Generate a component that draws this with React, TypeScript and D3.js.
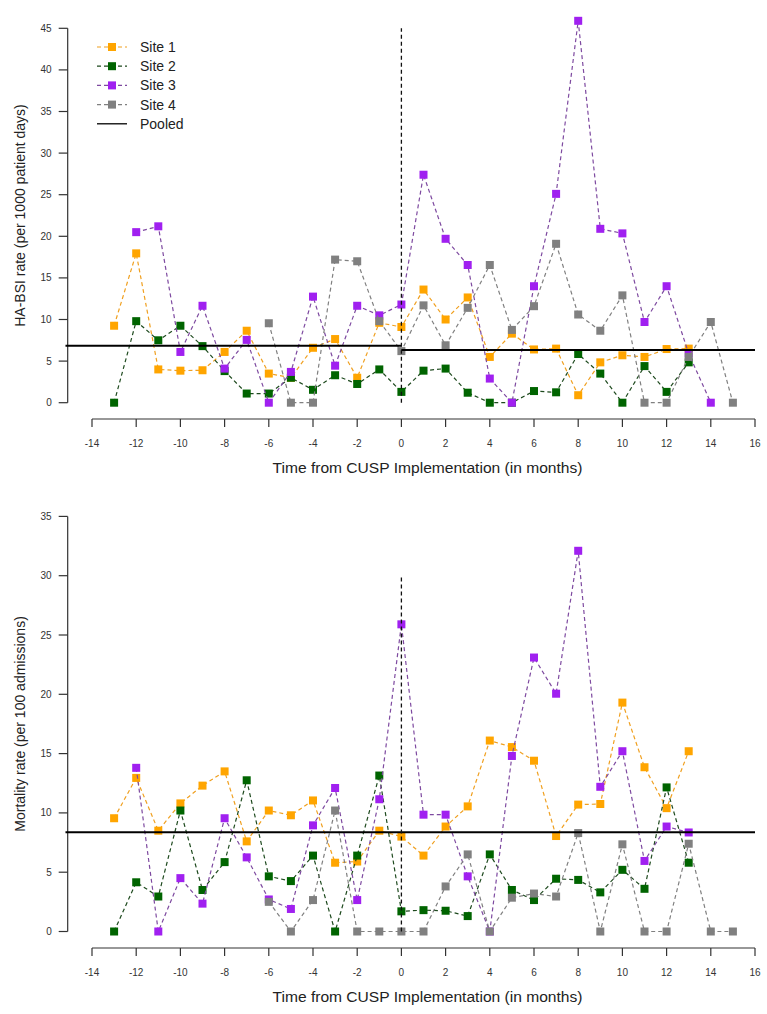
import React from "react";
import * as d3 from "d3";

const months: number[] = d3.range(-13, 16);
const xTicks: number[] = d3.range(-14, 17, 2);

// Top chart: HA-BSI rate (per 1000 patient days), months -13..15
const site1Top: (number | null)[] = [9.25, 17.95, 4.0, 3.85, 3.9, 6.1, 8.65, 3.5, 3.0, 6.6, 7.65, 3.0, 9.6, 9.1, 13.6, 10.0, 12.65, 5.5, 8.3, 6.4, 6.5, 0.9, 4.85, 5.7, 5.5, 6.45, 6.5, null, null];
const site2Top: (number | null)[] = [0, 9.8, 7.5, 9.25, 6.8, 3.8, 1.1, 1.1, 3.0, 1.55, 3.3, 2.25, 4.0, 1.3, 3.85, 4.1, 1.2, 0, 0, 1.4, 1.25, 5.85, 3.5, 0, 4.4, 1.3, 4.85, null, null];
const site3Top: (number | null)[] = [null, 20.5, 21.2, 6.1, 11.65, 4.1, 7.55, 0, 3.7, 12.75, 4.45, 11.65, 10.5, 11.8, 27.4, 19.7, 16.55, 2.9, 0, 14.0, 25.1, 45.9, 20.9, 20.35, 9.7, 14.0, 5.9, 0, null];
const site4Top: (number | null)[] = [null, null, null, null, null, null, null, 9.55, 0, 0, 17.2, 17.0, 9.8, 6.2, 11.7, 6.9, 11.4, 16.55, 8.75, 11.6, 19.1, 10.6, 8.65, 12.9, 0, 0, 5.5, 9.7, 0];
const pooledTopPre = 6.85;
const pooledTopPost = 6.33;
const yTicksTop: number[] = d3.range(0, 46, 5);

// Bottom chart: Mortality rate (per 100 admissions)
const site1Bot: (number | null)[] = [9.55, 12.95, 8.5, 10.8, 12.3, 13.5, 7.6, 10.2, 9.8, 11.05, 5.8, 5.9, 8.5, 8.0, 6.4, 8.85, 10.55, 16.1, 15.55, 14.4, 8.05, 10.7, 10.75, 19.3, 13.85, 10.4, 15.2, null, null];
const site2Bot: (number | null)[] = [0, 4.15, 2.95, 10.2, 3.5, 5.85, 12.75, 4.65, 4.25, 6.4, 0, 6.4, 13.15, 1.7, 1.8, 1.75, 1.3, 6.5, 3.5, 2.65, 4.45, 4.35, 3.3, 5.2, 3.6, 12.15, 5.8, null, null];
const site3Bot: (number | null)[] = [null, 13.8, 0, 4.5, 2.35, 9.55, 6.25, 2.7, 1.9, 8.95, 12.1, 2.65, 11.15, 25.9, 9.85, 9.85, 4.65, 0, 14.8, 23.1, 20.05, 32.1, 12.2, 15.2, 5.95, 8.85, 8.35, null, null];
const site4Bot: (number | null)[] = [null, null, null, null, null, null, null, 2.5, 0, 2.65, 10.2, 0, 0, 0, 0, 3.8, 6.5, 0, 2.85, 3.2, 2.95, 8.3, 0, 7.35, 0, 0, 7.4, 0, 0];
const pooledBot = 8.37;
const yTicksBot: number[] = d3.range(0, 36, 5);

const siteNames = ["Site 1", "Site 2", "Site 3", "Site 4"];
const siteColors = ["#FFA500", "#006400", "#A020F0", "#808080"];
const lineColors = ["#F0A020", "#1E4A1E", "#7E4AA0", "#808080"];

const FONT = "Liberation Sans, Arial, sans-serif";
const W = 767;
const H = 1014;

const xScale = d3.scaleLinear().domain([-14, 16]).range([92, 755]);

type PanelProps = {
  series: (number | null)[][];
  yScale: d3.ScaleLinear<number, number>;
  yTicks: number[];
  axisY: number;
  yTitle: string;
  vlineTop: number;
  pooled: { from: number; to: number; value: number }[];
  legend: boolean;
};

function Panel({ series, yScale, yTicks, axisY, yTitle, vlineTop, pooled, legend }: PanelProps) {
  const yAxisX = xScale(-15.1);
  const line = d3
    .line<[number, number | null]>()
    .defined((d) => d[1] !== null)
    .x((d) => xScale(d[0]))
    .y((d) => yScale(d[1] as number));
  const yMin = yScale(yTicks[0]);
  const yMax = yScale(yTicks[yTicks.length - 1]);
  const xTitleY = axisY + 49;
  const yMid = (yMin + yMax) / 2;
  return (
    <g>
      {/* y axis */}
      <line x1={yAxisX} x2={yAxisX} y1={yMin} y2={yMax} stroke="#333" strokeWidth={1.2} />
      {yTicks.map((t) => (
        <g key={"yt" + t}>
          <line x1={yAxisX - 9} x2={yAxisX} y1={yScale(t)} y2={yScale(t)} stroke="#333" strokeWidth={1.2} />
          <text x={yAxisX - 16} y={yScale(t)} dy="0.35em" textAnchor="end" fontSize={10} fontFamily={FONT} fill="#333">
            {t}
          </text>
        </g>
      ))}
      <text
        transform={`translate(20,${yMid}) rotate(-90)`}
        textAnchor="middle"
        dy="0.35em"
        fontSize={14}
        fontFamily={FONT}
        fill="#222"
      >
        {yTitle}
      </text>
      {/* x axis */}
      <line x1={xScale(-14)} x2={xScale(16)} y1={axisY} y2={axisY} stroke="#333" strokeWidth={1.2} />
      {xTicks.map((t) => (
        <g key={"xt" + t}>
          <line x1={xScale(t)} x2={xScale(t)} y1={axisY} y2={axisY + 8} stroke="#333" strokeWidth={1.2} />
          <text x={xScale(t)} y={axisY + 24} dy="0.35em" textAnchor="middle" fontSize={10} fontFamily={FONT} fill="#333">
            {t}
          </text>
        </g>
      ))}
      <text
        x={(xScale(-14) + xScale(16)) / 2 + 4}
        y={xTitleY}
        dy="0.35em"
        textAnchor="middle"
        fontSize={14}
        fontFamily={FONT}
        fill="#222"
        textLength={310}
        lengthAdjust="spacingAndGlyphs"
      >
        Time from CUSP Implementation (in months)
      </text>
      {/* series */}
      {series.map((vals, i) => {
        const pts: [number, number | null][] = months.map((m, j) => [m, vals[j]]);
        return (
          <g key={"s" + i}>
            <path d={line(pts) || ""} fill="none" stroke={lineColors[i]} strokeWidth={1.2} strokeDasharray="4,3" />
            {pts
              .filter((p) => p[1] !== null)
              .map((p) => (
                <rect
                  key={p[0]}
                  x={xScale(p[0]) - 4}
                  y={yScale(p[1] as number) - 4}
                  width={8}
                  height={8}
                  fill={siteColors[i]}
                />
              ))}
          </g>
        );
      })}
      {/* pooled */}
      {pooled.map((p, i) => (
        <line
          key={"p" + i}
          x1={xScale(p.from)}
          x2={xScale(p.to)}
          y1={yScale(p.value)}
          y2={yScale(p.value)}
          stroke="#000"
          strokeWidth={2}
        />
      ))}
      {/* implementation line */}
      <line
        x1={xScale(0)}
        x2={xScale(0)}
        y1={yScale(0)}
        y2={yScale(vlineTop)}
        stroke="#111"
        strokeWidth={1.3}
        strokeDasharray="4,3"
      />
      {legend && (
        <g>
          {siteNames.map((n, i) => {
            const ly = 47 + i * 19.2;
            return (
              <g key={n}>
                <line x1={97} x2={127} y1={ly} y2={ly} stroke={lineColors[i]} strokeWidth={1.2} strokeDasharray="4,3" />
                <rect x={108} y={ly - 4} width={8} height={8} fill={siteColors[i]} />
                <text x={140} y={ly} dy="0.35em" fontSize={14} fontFamily={FONT} fill="#222">
                  {n}
                </text>
              </g>
            );
          })}
          <line x1={97} x2={127} y1={47 + 4 * 19.2} y2={47 + 4 * 19.2} stroke="#000" strokeWidth={1.3} />
          <text x={140} y={47 + 4 * 19.2} dy="0.35em" fontSize={14} fontFamily={FONT} fill="#222">
            Pooled
          </text>
        </g>
      )}
    </g>
  );
}

export default function App() {
  const yTop = d3.scaleLinear().domain([0, 45]).range([402.7, 28.3]);
  const yBot = d3.scaleLinear().domain([0, 35]).range([931.5, 516.4]);
  return (
    <svg
      width={W}
      height={H}
      viewBox={`0 0 ${W} ${H}`}
      style={{ position: "absolute", left: 0, top: 0, background: "#fff" }}
    >
      <rect x={0} y={0} width={W} height={H} fill="#fff" />
      <Panel
        series={[site1Top, site2Top, site3Top, site4Top]}
        yScale={yTop}
        yTicks={yTicksTop}
        axisY={419}
        yTitle="HA-BSI rate (per 1000 patient days)"
        vlineTop={45}
        pooled={[
          { from: -15.2, to: 0, value: pooledTopPre },
          { from: 0, to: 16, value: pooledTopPost },
        ]}
        legend={true}
      />
      <Panel
        series={[site1Bot, site2Bot, site3Bot, site4Bot]}
        yScale={yBot}
        yTicks={yTicksBot}
        axisY={948}
        yTitle="Mortality rate (per 100 admissions)"
        vlineTop={30}
        pooled={[{ from: -15.2, to: 16, value: pooledBot }]}
        legend={false}
      />
    </svg>
  );
}
